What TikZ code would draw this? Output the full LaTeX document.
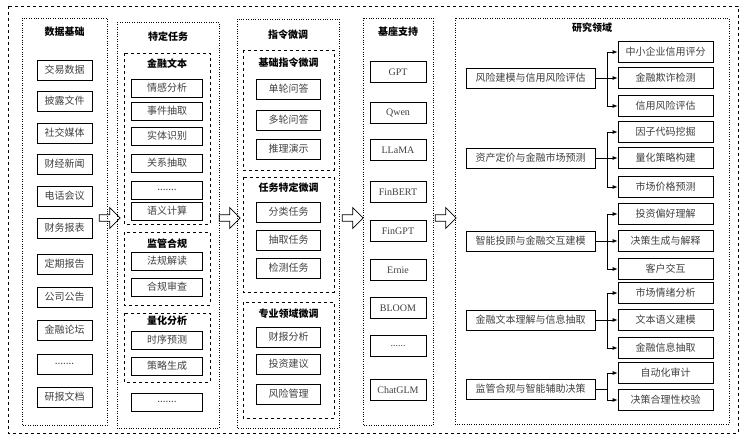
\documentclass[tikz,border=0pt]{standalone}
\usepackage{fontspec}
\setmainfont{Liberation Serif}
\newfontfamily\cjk{Noto Sans CJK SC}
\usetikzlibrary{shapes.arrows,arrows.meta}

\newcommand\mydots{.......}
\newcommand\mydotsb{......}

\tikzset{
  col/.style={draw, dotted, thin},
  grp/.style={draw, dashed, thick},
  item/.style={draw, thick, minimum height=18pt, inner sep=1pt, font=\cjk\fontsize{10}{12}\selectfont, text=black!75},
  ttl/.style={font=\cjk\bfseries\fontsize{10}{12}\selectfont},
  bigarrow/.style={single arrow, draw, thick, minimum width=21pt, single arrow head extend=3pt, minimum height=21pt, inner sep=1pt},
  link/.style={-{Latex[length=5pt,width=4pt]}, thick}
}

\begin{document}
\begin{tikzpicture}[x=1pt, y=-1pt]
  \useasboundingbox (0,0) rectangle (743,438);
  \draw[dashed] (8,6) rectangle (738,433);

  % data column
  \draw[col] (22,18) rectangle (107,425);
  \node[ttl] (t1) at (64.5,32) {数据基础};
  \foreach \y/\s [count=\i] in {70/交易数据,101/披露文件,133/社交媒体,164/财经新闻,196/电话会议,228/财务报表,264/定期报告,297/公司公告,330/金融论坛,364/\mydots,397/研报文档}
    \node[item, minimum width=55pt, minimum height=20pt] (d\i) at (64.5,\y) {\s};

  % task column
  \draw[col] (117,22) rectangle (219,428);
  \node[ttl] (t2) at (168,37) {特定任务};
  \draw[grp] (124,53) rectangle (210,224);
  \node[ttl] (g1) at (167,64) {金融文本};
  \foreach \y/\s [count=\i] in {88/情感分析,111/事件抽取,136/实体识别,163/关系抽取,190/\mydots,211/语义计算}
    \node[item, minimum width=71pt] (a\i) at (167,\y) {\s};
  \draw[grp] (124,232) rectangle (210,305);
  \node[ttl] (g2) at (167,244) {监管合规};
  \node[item, minimum width=71pt] (b1) at (167,261) {法规解读};
  \node[item, minimum width=71pt] (b2) at (167,287) {合规审查};
  \draw[grp] (124,313) rectangle (210,382);
  \node[ttl] (g3) at (167,321) {量化分析};
  \node[item, minimum width=71pt] (c1) at (167,340) {时序预测};
  \node[item, minimum width=71pt] (c2) at (167,366) {策略生成};
  \node[item, minimum width=71pt] (c3) at (167,402) {\mydots};

  % instruction column
  \draw[col] (237,19) rectangle (339,428);
  \node[ttl] (t3) at (288,35) {指令微调};
  \draw[grp] (243,50) rectangle (334,170);
  \node[ttl] (h1) at (288.5,63) {基础指令微调};
  \draw[grp] (243,177) rectangle (334,292);
  \node[ttl] (h2) at (288.5,188) {任务特定微调};
  \draw[grp] (243,302) rectangle (334,418);
  \node[ttl] (h3) at (288.5,314) {专业领域微调};
  \foreach \y/\s [count=\i] in {89/单轮问答,120/多轮问答,149/推理演示,212/分类任务,240/抽取任务,268/检测任务,337/财报分析,364/投资建议,394/风险管理}
    \node[item, minimum width=64pt, minimum height=20pt] (f\i) at (288.5,\y) {\s};

  % base column
  \draw[col] (363,18) rectangle (433,425);
  \node[ttl] (t4) at (398,32) {基座支持};
  \foreach \y/\s [count=\i] in {72/GPT,113/Qwen,150/LLaMA,192/FinBERT,231/FinGPT,270/Ernie,308/BLOOM,346/\mydotsb,390/ChatGLM}
    \node[item, minimum width=56pt, minimum height=21pt, font=\fontsize{10}{12}\selectfont] (m\i) at (398,\y) {\s};

  % research column
  \draw[col] (455,18) rectangle (729,424);
  \node[ttl] (t5) at (592,28) {研究领域};
  \foreach \y/\s [count=\i] in {78/风险建模与信用风险评估,158/资产定价与金融市场预测,241/智能投顾与金融交互建模,320/金融文本理解与信息抽取,389/监管合规与智能辅助决策}
    \node[item, minimum width=129pt, minimum height=20pt] (r\i) at (530.5,\y) {\s};
  \foreach \y/\s [count=\i] in {52/中小企业信用评分,78/金融欺诈检测,106/信用风险评估,132/因子代码挖掘,158/量化策略构建,187/市场价格预测,214/投资偏好理解,241/决策生成与解释,269/客户交互,293/市场情绪分析,320/文本语义建模,348/金融信息抽取,373/自动化审计,400/决策合理性校验}
    \node[item, minimum width=95pt, minimum height=21pt] (s\i) at (665.5,\y) {\s};

  \foreach \r/\list in {1/{1,2,3},2/{4,5,6},3/{7,8,9},4/{10,11,12},5/{13,14}} {
    \coordinate (k\r) at ([xshift=12pt]r\r.east);
    \draw[thick] (r\r.east) -- (k\r);
    \foreach \j in \list
      \draw[link] (k\r) |- (s\j.west);
  }

  % flow arrows
  \node[bigarrow] (p1) at (108,218) {};
  \node[bigarrow] (p2) at (228,218) {};
  \node[bigarrow] (p3) at (351,218) {};
  \node[bigarrow] (p4) at (444,218) {};
\end{tikzpicture}
\end{document}
